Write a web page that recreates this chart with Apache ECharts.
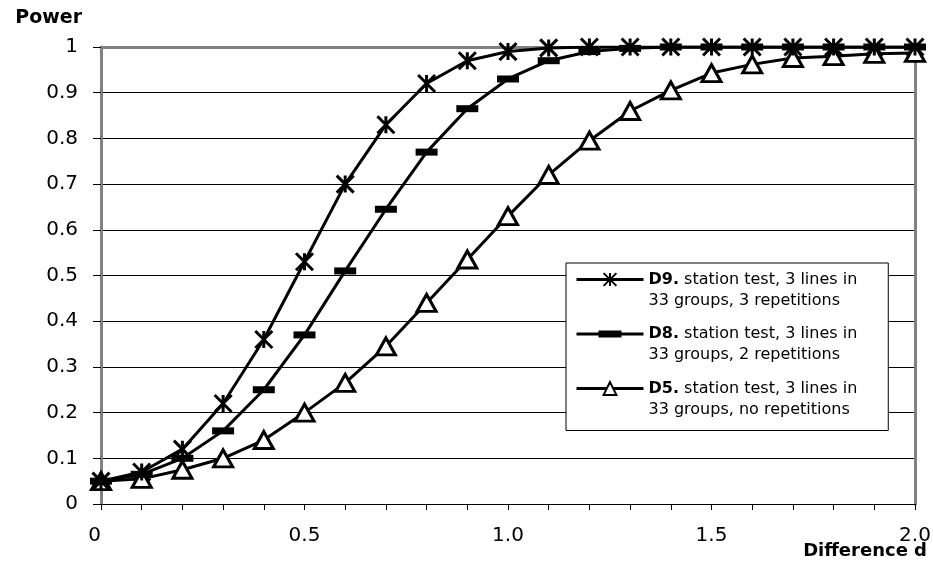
<!DOCTYPE html>
<html>
<head>
<meta charset="utf-8">
<script src="https://cdn.jsdelivr.net/npm/echarts@6/dist/echarts.min.js"></script>
<style>html,body{margin:0;padding:0;background:#fff}#c{width:933px;height:574px}</style>
</head>
<body>
<div id="c"></div>
<script>
var xValues = [0,0.1,0.2,0.3,0.4,0.5,0.6,0.7,0.8,0.9,1.0,1.1,1.2,1.3,1.4,1.5,1.6,1.7,1.8,1.9,2.0];
var d9 = [0.05,0.07,0.12,0.22,0.36,0.53,0.70,0.83,0.92,0.97,0.99,0.998,1,1,1,1,1,1,1,1,1];
var d8 = [0.05,0.065,0.10,0.16,0.25,0.37,0.51,0.645,0.77,0.865,0.93,0.97,0.99,0.997,1,1,1,1,1,1,1];
var d5 = [0.05,0.055,0.075,0.10,0.14,0.20,0.265,0.345,0.44,0.535,0.63,0.72,0.795,0.86,0.905,0.943,0.962,0.976,0.98,0.985,0.987];
var seriesNames = ['D9','D8','D5'];
var legendBold = {D9:'D9.', D8:'D8.', D5:'D5.'};
var legendRest = {
  D9:[' station test, 3 lines in','33 groups, 3 repetitions'],
  D8:[' station test, 3 lines in','33 groups, 2 repetitions'],
  D5:[' station test, 3 lines in','33 groups, no repetitions']
};
function pairs(arr){ return xValues.map(function(x,i){ return [x, arr[i]]; }); }

var font = 'DejaVu Sans';
var chart = echarts.init(document.getElementById('c'), null, {renderer:'canvas'});
chart.setOption({
  animation:false,
  backgroundColor:'#fff',
  textStyle:{fontFamily:font, color:'#000'},
  grid:{left:101, right:18, top:47, bottom:70, outerBoundsMode:'none', containLabel:false},
  legend:{
    orient:'vertical', left:566, top:263,
    data:[
      {name:'D9'},
      {name:'D8', icon:'path://M0,2L67,2L67,5L0,5Z M22,0L45,0L45,7L22,7Z', itemStyle:{color:'#000'}},
      {name:'D5'}
    ],
    itemWidth:67, itemHeight:16, itemGap:15,
    padding:[6,31,13,9],
    lineStyle:{width:3, color:'#000'},
    borderColor:'#000', borderWidth:1, backgroundColor:'#fff',
    formatter:function(n){ return '{b|'+legendBold[n]+'}'+legendRest[n][0]+'\n'+legendRest[n][1]; },
    textStyle:{fontFamily:font, fontSize:16, color:'#000', lineHeight:21, padding:[0,0,-21,0],
      rich:{b:{fontFamily:font, fontSize:16, fontWeight:'bold', color:'#000', lineHeight:21}}}
  },
  xAxis:[{
    type:'value', min:0, max:2, interval:0.1,
    name:'Difference d', nameLocation:'end', nameGap:12, nameMoveOverlap:false,
    nameTextStyle:{fontFamily:font, fontSize:18, fontWeight:'bold', color:'#000', align:'right', verticalAlign:'top', padding:[38,0,0,0]},
    axisLine:{show:true, onZero:false, lineStyle:{color:'#000', width:1}},
    axisTick:{show:true, inside:false, length:6, lineStyle:{color:'#000', width:1}},
    axisLabel:{margin:22, fontFamily:font, fontSize:20, color:'#000', alignMinLabel:'right',
      formatter:function(v){ var k=Math.round(v*10); if(k%5!==0) return ''; return k===0?'0':(k/10).toFixed(1); }},
    splitLine:{show:false}
  },{
    type:'value', position:'top', min:0, max:2,
    axisLine:{show:true, onZero:false, lineStyle:{color:'#808080', width:3}},
    axisTick:{show:false}, axisLabel:{show:false}, splitLine:{show:false}
  }],
  yAxis:[{
    type:'value', min:0, max:1, interval:0.1,
    name:'Power', nameLocation:'end', nameGap:29, nameMoveOverlap:false,
    nameTextStyle:{fontFamily:font, fontSize:19, fontWeight:'bold', color:'#000', align:'right', verticalAlign:'middle', padding:[0,19,0,0]},
    axisLine:{show:true, onZero:false, lineStyle:{color:'#808080', width:3}},
    axisTick:{show:true, inside:false, length:8, lineStyle:{color:'#000', width:1}},
    axisLabel:{margin:23, fontFamily:font, fontSize:20, color:'#000',
      formatter:function(v){ var k=Math.round(v*10); return (k===0||k===10)?String(k/10):(k/10).toFixed(1); }},
    splitLine:{show:true, lineStyle:{color:'#000', width:1}}
  },{
    type:'value', position:'right', min:0, max:1,
    axisLine:{show:true, onZero:false, lineStyle:{color:'#808080', width:3}},
    axisTick:{show:false}, axisLabel:{show:false}, splitLine:{show:false}
  }],
  series:[
    {name:'D5', type:'line', data:pairs(d5), symbol:'triangle', symbolSize:[19,17],
     lineStyle:{color:'#000', width:3}, itemStyle:{color:'#fff', borderColor:'#000', borderWidth:3}, z:3},
    {name:'D8', type:'line', data:pairs(d8), symbol:'path://M0,0L22,0L22,7L0,7Z', symbolSize:22, symbolKeepAspect:true,
     lineStyle:{color:'#000', width:3}, itemStyle:{color:'#000', borderColor:'#000', borderWidth:0}, z:4},
    {name:'D9', type:'line', data:pairs(d9), symbol:'path://M0,0L10,10M0,10L10,0M5,0L5,10', symbolSize:17, symbolKeepAspect:true,
     lineStyle:{color:'#000', width:3}, itemStyle:{color:'#000', borderColor:'#000', borderWidth:3}, z:5}
  ]
});
</script>
</body>
</html>
